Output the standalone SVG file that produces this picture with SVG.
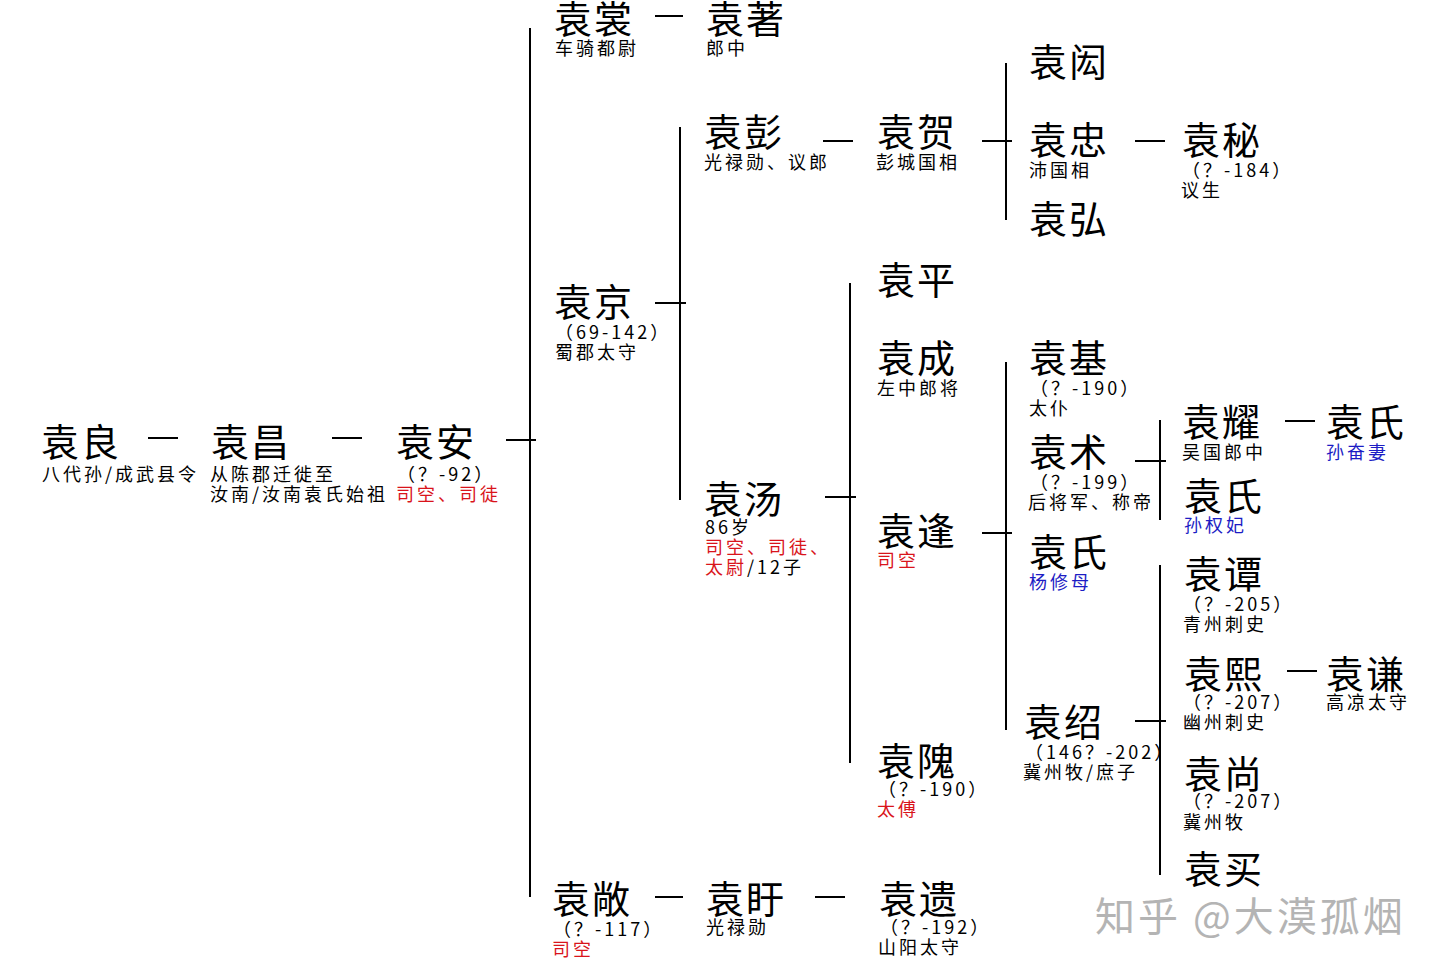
<svg xmlns="http://www.w3.org/2000/svg" width="1440" height="974" viewBox="0 0 1440 974">
<style>
text{font-family:"Noto Sans CJK SC","Noto Sans",sans-serif;fill:#000}
.n{font-size:38px;letter-spacing:2px}
.s{font-size:18px;letter-spacing:3px}
.r{fill:#d9141b}
.b{fill:#1c1cc4}
.c line{stroke:#000;stroke-width:2}
.wm{font-size:40px;fill:#b4b4b4;letter-spacing:3px}
</style>
<rect width="1440" height="974" fill="#fff"/>
<g class="c" id="connectors">
<line x1="148" y1="438" x2="178" y2="438"/>
<line x1="332" y1="438" x2="362" y2="438"/>
<line x1="506" y1="440" x2="536" y2="440"/>
<line x1="530" y1="28" x2="530" y2="897"/>
<line x1="655" y1="16" x2="683" y2="16"/>
<line x1="655" y1="303" x2="686" y2="303"/>
<line x1="680" y1="127" x2="680" y2="500"/>
<line x1="823" y1="141" x2="853" y2="141"/>
<line x1="982" y1="141" x2="1012" y2="141"/>
<line x1="1006" y1="63" x2="1006" y2="220"/>
<line x1="1135" y1="141" x2="1165" y2="141"/>
<line x1="825" y1="497" x2="856" y2="497"/>
<line x1="850" y1="283" x2="850" y2="763"/>
<line x1="982" y1="533" x2="1012" y2="533"/>
<line x1="1006" y1="362" x2="1006" y2="730"/>
<line x1="1135" y1="461" x2="1166" y2="461"/>
<line x1="1160" y1="420" x2="1160" y2="520"/>
<line x1="1285" y1="421" x2="1315" y2="421"/>
<line x1="1135" y1="721" x2="1166" y2="721"/>
<line x1="1160" y1="565" x2="1160" y2="875"/>
<line x1="1287" y1="671" x2="1317" y2="671"/>
<line x1="655" y1="897" x2="683" y2="897"/>
<line x1="815" y1="897" x2="845" y2="897"/>
</g>
<g id="yuanliang"><text class="n" x="41" y="456">袁良</text><text class="s" x="42" y="481">八代孙/成武县令</text></g>
<g id="yuanchang"><text class="n" x="211" y="456">袁昌</text><text class="s" x="210" y="481">从陈郡迁徙至</text><text class="s" x="210" y="501">汝南/汝南袁氏始祖</text></g>
<g id="yuanan"><text class="n" x="396" y="456">袁安</text><text class="s" x="397" y="481">（？-92）</text><text class="s r" x="396" y="501">司空、司徒</text></g>
<g id="yuanchang2"><text class="n" x="554" y="33">袁裳</text><text class="s" x="555" y="55">车骑都尉</text></g>
<g id="yuanzhu"><text class="n" x="706" y="33">袁著</text><text class="s" x="706" y="55">郎中</text></g>
<g id="yuanjing"><text class="n" x="554" y="316">袁京</text><text class="s" x="555" y="339">（69-142）</text><text class="s" x="555" y="359">蜀郡太守</text></g>
<g id="yuanpeng"><text class="n" x="704" y="146">袁彭</text><text class="s" x="704" y="169">光禄勋、议郎</text></g>
<g id="yuanhe"><text class="n" x="877" y="146">袁贺</text><text class="s" x="876" y="169">彭城国相</text></g>
<g id="yuanhong1"><text class="n" x="1029" y="76">袁闳</text></g>
<g id="yuanzhong"><text class="n" x="1029" y="154">袁忠</text><text class="s" x="1029" y="177">沛国相</text></g>
<g id="yuanmi"><text class="n" x="1182" y="154">袁秘</text><text class="s" x="1182" y="177">（？-184）</text><text class="s" x="1181" y="197">议生</text></g>
<g id="yuanhong2"><text class="n" x="1029" y="233">袁弘</text></g>
<g id="yuantang"><text class="n" x="704" y="513">袁汤</text><text class="s" x="705" y="534">86岁</text><text class="s r" x="705" y="554">司空、司徒、</text><text class="s" x="705" y="574"><tspan class="r">太尉</tspan>/12子</text></g>
<g id="yuanping"><text class="n" x="877" y="294">袁平</text></g>
<g id="yuancheng"><text class="n" x="877" y="372">袁成</text><text class="s" x="877" y="395">左中郎将</text></g>
<g id="yuanfeng"><text class="n" x="877" y="545">袁逢</text><text class="s r" x="877" y="567">司空</text></g>
<g id="yuanji"><text class="n" x="1029" y="372">袁基</text><text class="s" x="1030" y="395">（？-190）</text><text class="s" x="1029" y="415">太仆</text></g>
<g id="yuanshu"><text class="n" x="1029" y="466">袁术</text><text class="s" x="1030" y="489">（？-199）</text><text class="s" x="1028" y="509">后将军、称帝</text></g>
<g id="yuanyao"><text class="n" x="1182" y="436">袁耀</text><text class="s" x="1182" y="459">吴国郎中</text></g>
<g id="yuanshi1"><text class="n" x="1326" y="436">袁氏</text><text class="s b" x="1326" y="459">孙奋妻</text></g>
<g id="yuanshi2"><text class="n" x="1184" y="510">袁氏</text><text class="s b" x="1184" y="532">孙权妃</text></g>
<g id="yuanshi3"><text class="n" x="1029" y="566">袁氏</text><text class="s b" x="1029" y="589">杨修母</text></g>
<g id="yuanshao"><text class="n" x="1024" y="736">袁绍</text><text class="s" x="1025" y="759">（146？-202）</text><text class="s" x="1023" y="779">冀州牧/庶子</text></g>
<g id="yuantan"><text class="n" x="1184" y="588">袁谭</text><text class="s" x="1183" y="611">（？-205）</text><text class="s" x="1183" y="631">青州刺史</text></g>
<g id="yuanxi"><text class="n" x="1184" y="688">袁熙</text><text class="s" x="1183" y="709">（？-207）</text><text class="s" x="1183" y="729">幽州刺史</text></g>
<g id="yuanqian"><text class="n" x="1326" y="688">袁谦</text><text class="s" x="1326" y="709">高凉太守</text></g>
<g id="yuanshang"><text class="n" x="1184" y="788">袁尚</text><text class="s" x="1183" y="808">（？-207）</text><text class="s" x="1183" y="829">冀州牧</text></g>
<g id="yuanmai"><text class="n" x="1184" y="883">袁买</text></g>
<g id="yuanwei"><text class="n" x="877" y="775">袁隗</text><text class="s" x="878" y="796">（？-190）</text><text class="s r" x="877" y="816">太傅</text></g>
<g id="yuanchang3"><text class="n" x="552" y="913">袁敞</text><text class="s" x="553" y="936">（？-117）</text><text class="s r" x="552" y="956">司空</text></g>
<g id="yuanxu"><text class="n" x="706" y="913">袁盱</text><text class="s" x="706" y="934">光禄勋</text></g>
<g id="yuanyi"><text class="n" x="879" y="913">袁遗</text><text class="s" x="880" y="934">（？-192）</text><text class="s" x="878" y="954">山阳太守</text></g>
<text class="wm" x="1095" y="931">知乎 @大漠孤烟</text>
</svg>
